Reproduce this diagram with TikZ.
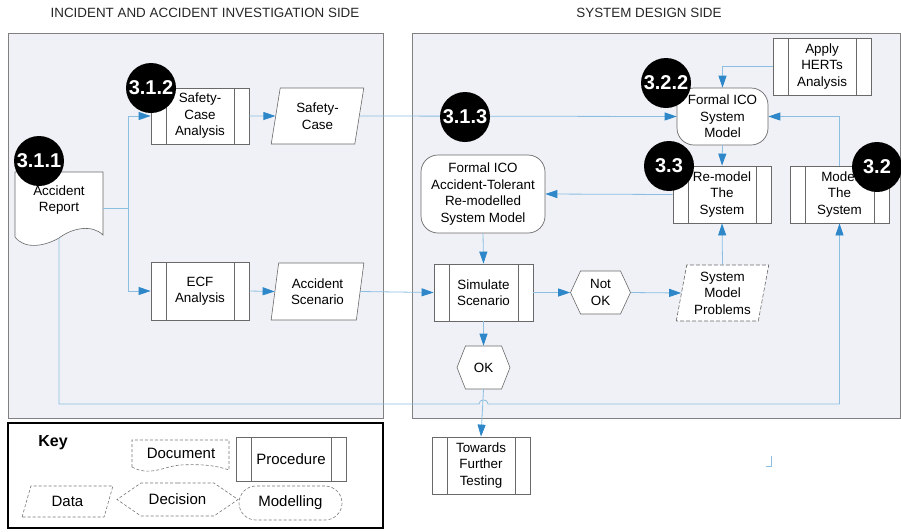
\documentclass[tikz,border=0pt]{standalone}
\usepackage{fontspec}
\setmainfont{Liberation Sans}
\usetikzlibrary{arrows.meta,shapes.geometric,shapes.symbols}

\definecolor{panelfill}{RGB}{239,241,246}
\definecolor{panelline}{RGB}{128,128,128}
\definecolor{wire}{RGB}{140,190,226}
\definecolor{tipblue}{RGB}{45,135,200}
\definecolor{shapeline}{RGB}{105,105,105}
\definecolor{keyline}{RGB}{120,120,120}

\pgfdeclarelayer{back}
\pgfdeclarelayer{mid}
\pgfsetlayers{back,mid,main}

\tikzset{
  txt/.style={font=\fontsize{13.4}{16.5}\selectfont, align=center, inner sep=0pt},
  keytxt/.style={font=\fontsize{15}{18}\selectfont, align=center, inner sep=0pt},
  titletxt/.style={font=\fontsize{13.4}{16}\selectfont, inner sep=0pt, text=black!85},
  panel/.style={fill=panelfill, draw=panelline, line width=0.9pt},
  proc/.style={txt, rectangle, draw=shapeline, line width=0.8pt, fill=white,
    path picture={\draw[shapeline, line width=0.8pt]
      ([xshift=15pt]path picture bounding box.north west) -- ([xshift=15pt]path picture bounding box.south west)
      ([xshift=-15pt]path picture bounding box.north east) -- ([xshift=-15pt]path picture bounding box.south east);}},
  datab/.style={txt, trapezium, trapezium left angle=79, trapezium right angle=101,
    trapezium stretches=true, draw=shapeline, line width=0.6pt, fill=white},
  hexa/.style={txt, signal, signal to=west and east, draw=shapeline, line width=0.6pt, fill=white},
  model/.style={txt, rectangle, rounded corners=17pt, draw=shapeline, line width=0.7pt, fill=white},
  docline/.style={draw=shapeline, line width=0.6pt, fill=white},
  keydash/.style={draw=keyline, line width=0.6pt, dash pattern=on 3pt off 2pt},
  badge/.style={circle, fill=black, text=white, minimum size=50pt, inner sep=0pt,
    font=\bfseries\fontsize{20}{20}\selectfont},
  wireline/.style={draw=wire, line width=0.8pt},
  flow/.style={wireline, -{Triangle[length=12pt, width=8pt, color=tipblue]}},
}

\begin{document}
\begin{tikzpicture}[x=1pt, y=-1pt]
\useasboundingbox (0,0) rectangle (901,531);

% side headings
\node[titletxt] (ltitle) at (205,13) {INCIDENT AND ACCIDENT INVESTIGATION SIDE};
\node[titletxt] (rtitle) at (649,13) {SYSTEM DESIGN SIDE};

% the two shaded sides
\begin{pgfonlayer}{back}
  \draw[panel] (8,33) rectangle (383,418);
  \draw[panel] (412,33) rectangle (900,418);
\end{pgfonlayer}

% document outline of the accident report
\begin{pgfonlayer}{mid}
  \draw[docline] (15,237) .. controls (25,250) and (45,246) .. (59,238)
     .. controls (72,228) and (92,224) .. (103,235) -- (103,172) -- (15,172) -- cycle;
\end{pgfonlayer}
\node[txt, minimum width=88pt, minimum height=56pt] (ar) at (59,200) {Accident\\Report};
\coordinate (arfoot) at (59,238);
\coordinate (split) at (128,208);

% investigation side
\node[proc, minimum width=98pt, minimum height=56pt] (sca) at (200,116) {Safety-\\Case\\Analysis};
\node[datab, minimum width=93pt, minimum height=56pt] (sc) at (317.5,116) {Safety-\\Case};
\node[proc, minimum width=98pt, minimum height=58pt] (ecf) at (200,291) {ECF\\Analysis};
\node[datab, minimum width=93pt, minimum height=57pt] (as) at (317.5,291.5) {Accident\\Scenario};

% design side
\node[proc, minimum width=98pt, minimum height=57pt] (herts) at (822,66.5) {Apply\\HERTs\\Analysis};
\node[model, minimum width=91pt, minimum height=57pt] (fico) at (722.5,116.5) {Formal ICO\\System\\Model};
\node[proc, minimum width=98pt, minimum height=57pt] (remodel) at (722,194.5) {Re-model\\The\\System};
\node[proc, minimum width=99pt, minimum height=57pt] (msys) at (839.5,194.5) {Model\\The\\System};
\node[model, minimum width=124pt, minimum height=78pt] (fat) at (483,194) {Formal ICO\\Accident-Tolerant\\Re-modelled\\System Model};
\node[proc, minimum width=99pt, minimum height=57pt] (sim) at (483.5,292.5) {Simulate\\Scenario};
\node[hexa, signal pointer angle=130, minimum width=60pt, minimum height=43pt] (notok) at (600.5,292.5) {Not\\OK};
\node[datab, dash pattern=on 4pt off 2pt, minimum width=93pt, minimum height=56pt] (smp) at (722.5,293) {System\\Model\\Problems};
\node[hexa, signal pointer angle=137, minimum width=53pt, minimum height=43pt] (ok) at (483.5,367.5) {OK};
\node[proc, minimum width=98pt, minimum height=57pt] (tft) at (481,465.5) {Towards\\Further\\Testing};

% connectors
\draw[wireline] ([yshift=-8pt]ar.east) -- (split);
\draw[flow] (split) |- (sca.west);
\draw[flow] (split) |- (ecf.west);
\draw[flow] (sca.east) -- (sc.west);
\draw[flow] (ecf.east) -- (as.west);
\draw[flow] (sc.east) -- (fico.west);
\draw[flow] (as.east) -- (sim.west);
\draw[flow] (herts.west) -| (fico.north);
\draw[flow] (fico.south) -- (remodel.north);
\draw[flow] (msys.north) |- (fico.east);
\draw[flow] (remodel.west) -- (fat.east);
\draw[flow] (fat.south) -- (sim.north);
\draw[flow] (sim.east) -- (notok.west);
\draw[flow] (notok.east) -- (smp.west);
\draw[flow] (smp.north) -- (remodel.south);
\draw[flow] (sim.south) -- (ok.north);
\draw[flow] (ok.south) -- (tft.north);
\coordinate (hopl) at (479,404);
\coordinate (hopr) at (488,404);
\draw[flow] (arfoot) |- (hopl) .. controls (479,398.5) and (488,398.5) .. (hopr) -| (msys.south);

% small corner mark
\draw[wireline] (766,466) -- (771,466) -- (771,456);

% step numbers
\node[badge] (b311) at (39,161) {3.1.1};
\node[badge] (b312) at (151,88) {3.1.2};
\node[badge] (b313) at (465,117) {3.1.3};
\node[badge] (b322) at (666,83) {3.2.2};
\node[badge] (b33) at (669,166) {3.3};
\node[badge] (b32) at (877,167) {3.2};

% key
\draw[line width=2pt, fill=white] (8,423) rectangle (383,528);
\node[font=\bfseries\fontsize{16}{18}\selectfont, inner sep=0pt] (keyhead) at (53,443) {Key};
\begin{pgfonlayer}{main}
  \draw[keydash, fill=white] (132,467) .. controls (150,477) and (165,466) .. (180,465)
     .. controls (200,464) and (215,465) .. (229,470) -- (229,440) -- (132,440) -- cycle;
\end{pgfonlayer}
\node[keytxt] (kdoc) at (181,453) {Document};
\node[proc, font=\fontsize{15}{18}\selectfont, minimum width=110pt, minimum height=44pt] (kproc) at (291,459) {Procedure};
\node[keytxt, trapezium, trapezium left angle=70, trapezium right angle=110, trapezium stretches=true,
  keydash, fill=white, minimum width=91pt, minimum height=31pt] (kdata) at (67.5,501.5) {Data};
\node[keytxt, signal, signal to=west and east, signal pointer angle=69, keydash, fill=white,
  minimum width=121pt, minimum height=33pt] (kdec) at (177.5,499.5) {Decision};
\node[keytxt, rectangle, rounded corners=17pt, keydash, fill=white,
  minimum width=103pt, minimum height=34pt] (kmod) at (290.5,503) {Modelling};
\end{tikzpicture}
\end{document}
